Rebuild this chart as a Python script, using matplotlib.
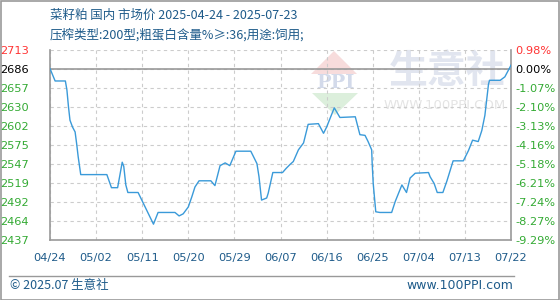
import matplotlib
matplotlib.use("Agg")
import matplotlib.pyplot as plt
from matplotlib.patches import Polygon, Rectangle
from matplotlib.lines import Line2D

plt.rcParams['font.family'] = ['DejaVu Sans', 'Noto Sans CJK SC']

# ---- data ----
title_line1 = "菜籽粕 国内 市场价 2025-04-24 - 2025-07-23"
title_line2 = "压榨类型:200型;粗蛋白含量%≥:36;用途:饲用;"
x_tick_labels = ["04/24", "05/02", "05/11", "05/20", "05/29", "06/07",
                 "06/16", "06/25", "07/04", "07/13", "07/22"]
x_tick_days = [0, 9, 18, 27, 36, 45, 54, 63, 72, 81, 90]
y_tick_labels = ["2437", "2464", "2492", "2519", "2547", "2575",
                 "2602", "2630", "2657", "2686", "2713"]
pct_tick_labels = ["-9.29%", "-8.27%", "-7.24%", "-6.21%", "-5.18%", "-4.16%",
                   "-3.13%", "-2.10%", "-1.07%", "0.00%", "0.98%"]
y_min, y_max = 2437, 2713
base_price = 2686

# days since 2025-04-24 and price (yuan/ton)
days = [0.0, 1.0, 3.0, 3.3, 3.6, 3.9, 4.4, 4.9, 5.2, 5.5, 6.0, 11.1, 12.0, 13.2,
        14.1, 14.4, 14.8, 15.2, 17.2, 20.2, 21.1, 24.4, 25.2, 26.0, 27.0, 27.7,
        28.3, 29.1, 31.4, 32.2, 33.2, 34.2, 35.1, 36.3, 39.2, 40.4, 40.8, 41.3,
        42.3, 42.6, 43.5, 45.4, 46.1, 46.9, 47.5, 48.5, 49.5, 50.4, 52.4, 53.4,
        54.0, 55.5, 56.6, 59.6, 60.5, 61.5, 62.1, 62.8, 62.9, 63.1, 63.6, 64.4,
        66.7, 67.4, 68.7, 69.6, 70.3, 71.3, 73.9, 74.2, 75.0, 75.6, 76.7, 77.5,
        78.7, 80.7, 81.7, 82.5, 83.6, 84.3, 84.9, 85.6, 85.8, 87.9, 88.8, 89.8,
        90.0]
prices = [2686, 2668, 2668, 2655, 2631, 2611, 2601, 2594, 2577, 2558, 2532, 2532,
          2513, 2513, 2550, 2544, 2517, 2506, 2506, 2460, 2477, 2477, 2472, 2475,
          2485, 2500, 2514, 2523, 2523, 2516, 2545, 2549, 2545, 2566, 2566, 2548,
          2529, 2495, 2498, 2505, 2535, 2535, 2541, 2547, 2551, 2568, 2578, 2605,
          2606, 2592, 2601, 2629, 2615, 2616, 2590, 2589, 2580, 2568, 2548, 2519,
          2478, 2477, 2477, 2493, 2517, 2506, 2527, 2534, 2535, 2529, 2519, 2506,
          2506, 2523, 2552, 2552, 2567, 2582, 2580, 2596, 2618, 2663, 2669, 2669,
          2674, 2688, 2691]

W, H = 560, 300
fig = plt.figure(figsize=(W / 100, H / 100), dpi=100)
fig.patch.set_facecolor("white")

def fx(px):
    return px / W

def fy(py):
    return 1 - py / H

title_color = "#1e5b8a"
green = "#33aa33"
red = "#ff3333"

# watermark
fig.add_artist(Polygon([(fx(334), fy(51)), (fx(311), fy(74)), (fx(357), fy(74))],
                       closed=True, transform=fig.transFigure, facecolor="#f7dcdc",
                       edgecolor="none", zorder=0.2))
fig.add_artist(Polygon([(fx(312), fy(93)), (fx(358), fy(93)), (fx(335), fy(115))],
                       closed=True, transform=fig.transFigure, facecolor="#dcefdc",
                       edgecolor="none", zorder=0.2))
fig.text(fx(335), fy(83), "PPI", fontsize=14, fontweight="bold", family="DejaVu Serif",
         color="#d3daea", ha="center", va="center", zorder=0.3)
fig.text(fx(447), fy(72), "生意社", fontsize=28, fontweight="bold",
         family=["Noto Sans CJK SC"], color="#e1e5ef", ha="center", va="center", zorder=0.3)
fig.text(fx(445), fy(106), "WWW.100PPI.COM", fontsize=9.5, color="#e4e4e4",
         ha="center", va="center", zorder=0.3)

ax = fig.add_axes([fx(50), fy(240), (511 - 50) / W, 190 / H])
ax.set_zorder(1)
ax.patch.set_alpha(0)

ax.plot(days, prices, color="#3a9ad9", lw=1.0, zorder=3)
ax.axhline(base_price, color="#999999", lw=1.2, zorder=2)

ax.set_xlim(0, 90)
ax.set_ylim(y_min, y_max)
ytick_pos = [y_min + (y_max - y_min) * i / 10 for i in range(11)]
ax.set_yticks(ytick_pos)
ax.set_yticklabels(y_tick_labels)
ax.set_xticks(x_tick_days)
ax.set_xticklabels(x_tick_labels)

ax.grid(True, color="#cccccc", linestyle=(0, (3, 3)), lw=0.8)
for s in ["left", "bottom", "right"]:
    ax.spines[s].set_color("#999999")
    ax.spines[s].set_linewidth(1.2)
ax.spines["top"].set_visible(False)

ax.tick_params(axis="both", length=0)
ax.tick_params(axis="y", pad=15, labelsize=8.2)
ax.tick_params(axis="x", pad=9, labelsize=8.2, labelcolor=title_color)
for lbl in ax.get_yticklabels():
    lbl.set_color(green)
ax.get_yticklabels()[-1].set_color(red)
ax.get_yticklabels()[-2].set_color("black")

ax2 = ax.twinx()
ax2.set_ylim(y_min, y_max)
ax2.set_yticks(ytick_pos)
ax2.set_yticklabels(pct_tick_labels)
ax2.tick_params(axis="y", length=0, pad=3, labelsize=8.2)
for s in ax2.spines.values():
    s.set_visible(False)
for lbl in ax2.get_yticklabels():
    lbl.set_color(green)
ax2.get_yticklabels()[-1].set_color(red)
ax2.get_yticklabels()[-2].set_color("black")

# titles
fig.text(fx(50), fy(15), title_line1, fontsize=9, color=title_color,
         ha="left", va="center", family=["Noto Sans CJK SC", "DejaVu Sans"])
fig.text(fx(50), fy(35), title_line2, fontsize=9, color=title_color,
         ha="left", va="center", family=["Noto Sans CJK SC", "DejaVu Sans"])

# footer
fig.add_artist(Line2D([fx(9), fx(514)], [fy(275.5), fy(275.5)], color="#999999",
                      lw=1.0, transform=fig.transFigure))
fig.text(fx(10), fy(285.5), "© 2025.07 生意社", fontsize=9, color=title_color,
         ha="left", va="center", family=["Noto Sans CJK SC", "DejaVu Sans"])
fig.text(fx(513), fy(285.5), "www.100PPI.com", fontsize=9, color=title_color,
         ha="right", va="center")

# outer border
fig.add_artist(Rectangle((0.5 / W, 0.5 / H), 1 - 1.5 / W, 1 - 1.5 / H,
                         transform=fig.transFigure, fill=False,
                         edgecolor="#999999", lw=1.2))

fig.savefig("out.png", dpi=100)
